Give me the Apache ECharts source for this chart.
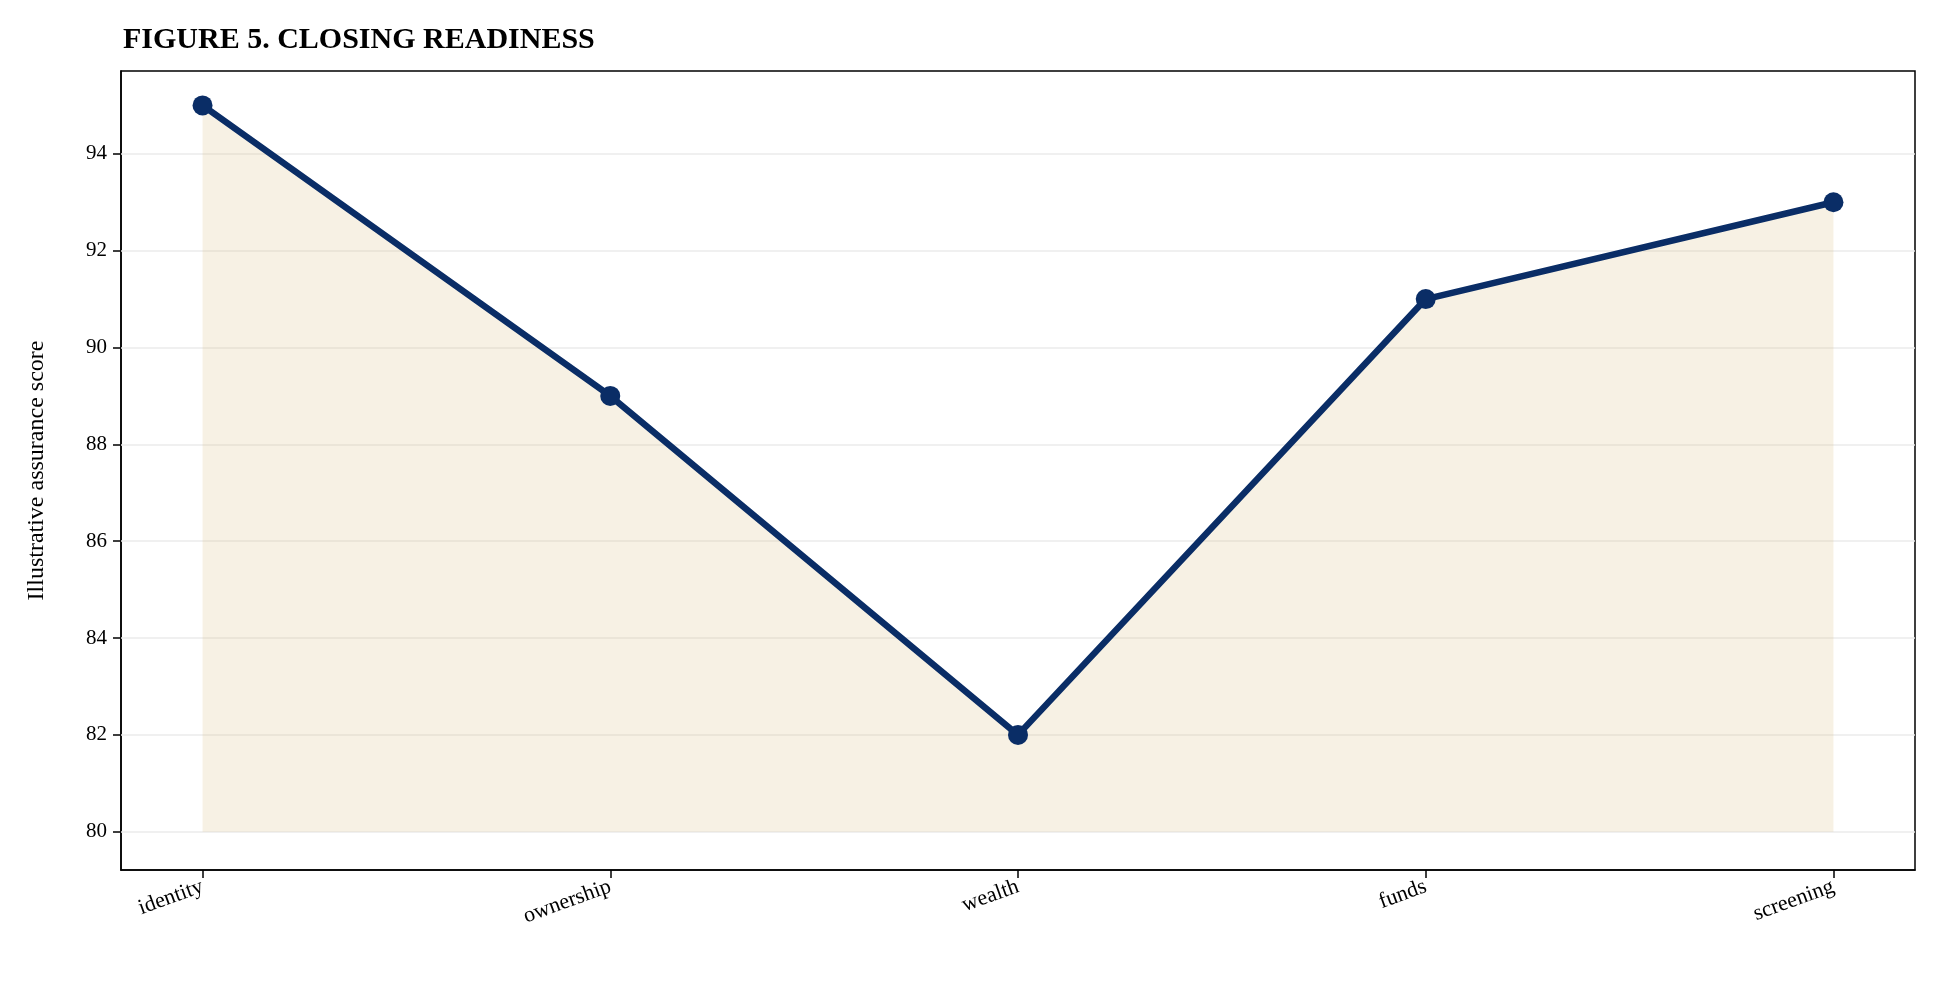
<!DOCTYPE html>
<html><head><meta charset="utf-8">
<script src="https://cdn.jsdelivr.net/npm/echarts@6/dist/echarts.min.js"></script>
<style>html,body{margin:0;padding:0;background:#fff}#c{width:1940px;height:983px}</style>
</head><body><div id="c"></div>
<script>
const categories = ["identity","ownership","wealth","funds","screening"];
const scores = [95, 89, 82, 91, 93];
const yTicks = [80, 82, 84, 86, 88, 90, 92, 94];

const chart = echarts.init(document.getElementById('c'));
const F = '"Liberation Serif","DejaVu Serif",serif';
chart.setOption({
  backgroundColor: '#fff',
  animation: false,
  title: { text: 'FIGURE 5. CLOSING READINESS', left: 118, top: 20,
    textStyle: { fontFamily: F, fontWeight: 'bold', fontSize: 30, color: '#000' } },
  grid: { left: 121, right: 25, top: 71, bottom: 113, show: true, borderColor: '#000', borderWidth: 1.5 },
  xAxis: {
    type: 'value', min: -0.2, max: 4.2, interval: 1,
    axisLine: { show: true, onZero: false, lineStyle: { color: '#000', width: 1.5 } },
    axisTick: { show: true, length: 8, lineStyle: { color: '#000', width: 1.5 },
      customValues: categories.map((_, i) => i) },
    axisLabel: { customValues: categories.map((_, i) => i), formatter: v => categories[Math.round(v)] || '',
      rotate: 20, fontFamily: F, fontSize: 22, color: '#000', margin: 16 },
    splitLine: { show: false }
  },
  yAxis: {
    type: 'value', min: 79.21, max: 95.71,
    name: 'Illustrative assurance score', nameLocation: 'middle', nameGap: 72,
    nameTextStyle: { fontFamily: F, fontSize: 24, color: '#000' },
    axisLine: { show: true, onZero: false, lineStyle: { color: '#000', width: 1.5 } },
    axisTick: { show: true, length: 8, lineStyle: { color: '#000', width: 1.5 }, customValues: yTicks },
    axisLabel: { customValues: yTicks, fontFamily: F, fontSize: 21, color: '#000', margin: 14 },
    splitLine: { show: false }
  },
  series: [
    { type: 'line', data: yTicks.map(v => [-0.2, v]), silent: true, symbol: 'none', lineStyle: { width: 0 },
      markLine: { silent: true, symbol: 'none', label: { show: false },
        lineStyle: { color: '#ebebeb', width: 1.5, type: 'solid' },
        data: yTicks.map(v => ({ yAxis: v })) } },
    { type: 'line', data: scores.map((v, i) => [i, v]),
      symbol: 'circle', symbolSize: 20,
      itemStyle: { color: '#0a2d66' },
      lineStyle: { color: '#0a2d66', width: 6.5 },
      areaStyle: { origin: 80, color: 'rgba(210,180,110,0.27)' },
      z: 5 }
  ]
});
</script></body></html>
